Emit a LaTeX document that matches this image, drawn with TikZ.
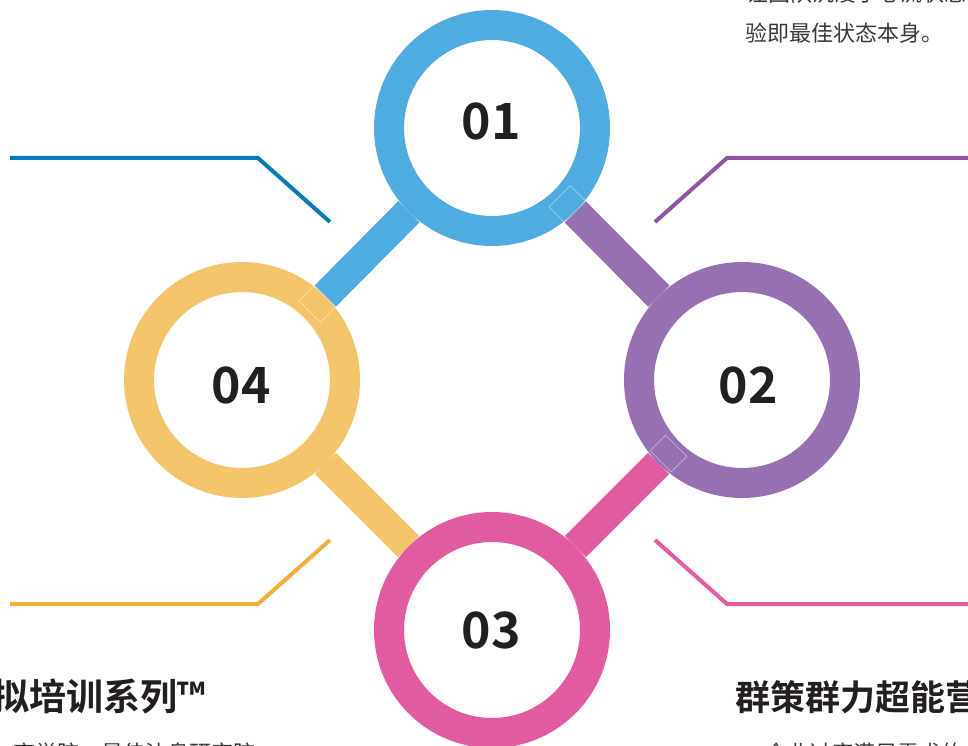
\documentclass[tikz,border=0pt]{standalone}
\usepackage{fontspec}
\usetikzlibrary{calc,backgrounds}
\newfontfamily\cjk{Noto Sans CJK SC}[BoldFont={Noto Sans CJK SC Bold}]
\definecolor{ringblue}{HTML}{4EACE0}
\definecolor{ringpurple}{HTML}{9670B1}
\definecolor{ringpink}{HTML}{E05BA0}
\definecolor{ringyellow}{HTML}{F3C46A}
\definecolor{lineblue}{HTML}{0A7AC0}
\definecolor{linepurple}{HTML}{8F55A3}
\definecolor{lineorange}{HTML}{F6AD3C}
\definecolor{linepink}{HTML}{EB5AA0}
\definecolor{numdark}{HTML}{231F20}
\definecolor{bodygray}{HTML}{3A3A3A}
\begin{document}
\begin{tikzpicture}[x=1pt,y=-1pt,
  ring/.style={circle, draw=#1, line width=30pt, fill=white, minimum size=206pt, inner sep=0pt},
  numtext/.style={inner sep=0pt, font=\cjk\bfseries\fontsize{50}{56}\selectfont, text=numdark},
  bar/.style={line width=30pt, draw=#1},
  callout/.style={line width=4pt, draw=#1},
  seam/.style={draw=white, draw opacity=0.45, line width=0.7pt, minimum width=22pt, minimum height=30pt, inner sep=0pt},
  titletext/.style={inner sep=0pt, font=\cjk\bfseries\fontsize{35}{40}\selectfont, text=numdark},
  bodytext/.style={inner sep=0pt, font=\cjk\fontsize{22}{26}\selectfont, text=bodygray}]
\useasboundingbox (0,0) rectangle (968,746);
\clip (0,0) rectangle (968,746);

% rings
\node[ring=ringblue]   (n1) at (492,128) {};
\node[ring=ringpurple] (n2) at (742,380) {};
\node[ring=ringpink]   (n3) at (492,630) {};
\node[ring=ringyellow] (n4) at (242,380) {};

% numbers
\node[numtext] (l1) at (491,121) {01};
\node[numtext] (l2) at (748,385) {02};
\node[numtext] (l3) at (491,630) {03};
\node[numtext] (l4) at (241,385) {04};

% connecting bars
\begin{pgfonlayer}{background}
\draw[bar=ringblue]   (n1) -- (n4);
\draw[bar=ringpurple] (n1) -- (n2);
\draw[bar=ringpink]   (n2) -- (n3);
\draw[bar=ringyellow] (n4) -- (n3);
\end{pgfonlayer}

% faint seams where bars meet rings
\node[seam, rotate=45]  (s1) at ($(n4.center)!107pt!(n1.center)$) {};
\node[seam, rotate=-45] (s2) at ($(n1.center)!107pt!(n2.center)$) {};
\node[seam, rotate=45]  (s3) at ($(n2.center)!104pt!(n3.center)$) {};

% callout lines
\coordinate (a1) at (10,158);  \coordinate (b1) at (258,158); \coordinate (e1) at (330,222);
\coordinate (a2) at (968,158); \coordinate (b2) at (727,158); \coordinate (e2) at (655,222);
\coordinate (a3) at (10,604);  \coordinate (b3) at (258,604); \coordinate (e3) at (330,540);
\coordinate (a4) at (968,604); \coordinate (b4) at (727,604); \coordinate (e4) at (655,540);
\draw[callout=lineblue]   (a1) -- (b1) -- (e1);
\draw[callout=linepurple] (a2) -- (b2) -- (e2);
\draw[callout=lineorange] (a3) -- (b3) -- (e3);
\draw[callout=linepink]   (a4) -- (b4) -- (e4);

% texts
\node[bodytext, anchor=west] (tr1) at (746,-7) {让团队沉浸于心流状态，体};
\node[bodytext, anchor=west] (tr2) at (745,33) {验即最佳状态本身。};
\node[titletext, anchor=east, font=\cjk\bfseries\fontsize{37}{40}\selectfont] (tl) at (206,697) {虚拟培训系列™};
\node[bodytext, anchor=east] (bl) at (256,753) {商学院，最佳沙盘研究院};
\node[titletext, anchor=west] (tt) at (735,697) {群策群力超能营};
\node[bodytext, anchor=west] (br) at (765,753) {企业过度满足需求的};
\end{tikzpicture}
\end{document}
